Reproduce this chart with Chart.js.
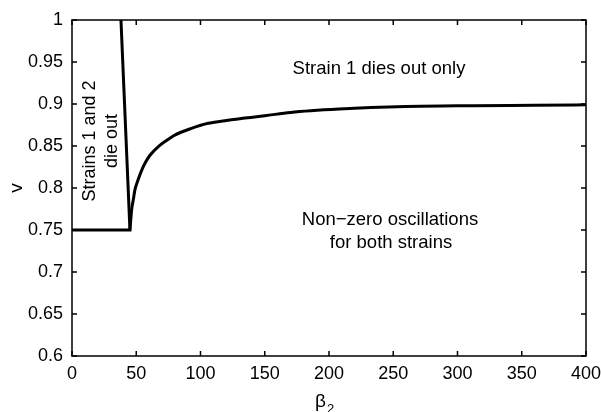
<!DOCTYPE html>
<html>
<head>
<meta charset="utf-8">
<script src="https://cdn.jsdelivr.net/npm/chart.js@4.4.1/dist/chart.umd.min.js"></script>
<style>
  body { margin: 0; background: #fff; }
  #wrap { width: 601px; height: 412px; }
</style>
</head>
<body>
<div id="wrap"><canvas id="myChart"></canvas></div>
<script>
// Boundary between "die out" region and the rest
const boundaryBeta = [0, 45.1, 38.1];
const boundaryV = [0.75, 0.75, 1.0];

// Curve separating strain 1 dying out from oscillations
const curveBeta = [45.1, 46.4, 47.7, 49, 51.5, 54.2, 57, 60.7, 67, 73, 80, 93, 106, 119, 133, 150, 170, 208, 260, 312, 360, 400];
const curveV = [0.75, 0.774, 0.786, 0.798, 0.810, 0.821, 0.830, 0.839, 0.849, 0.856, 0.863, 0.871, 0.877, 0.880, 0.883, 0.886, 0.890, 0.894, 0.897, 0.898, 0.8985, 0.899];

const xTicks = [0, 50, 100, 150, 200, 250, 300, 350, 400];
const yTicks = [0.6, 0.65, 0.7, 0.75, 0.8, 0.85, 0.9, 0.95, 1];

const FONT = '"Liberation Sans", Arial, Helvetica, sans-serif';

const toPoints = (xs, ys) => xs.map((x, i) => ({ x: x, y: ys[i] }));

// Draws the MATLAB-style box, inward ticks and text
const matlabAxes = {
  id: 'matlabAxes',
  afterDraw(chart) {
    const c = chart.ctx;
    const a = chart.chartArea;
    const xs = chart.scales.x, ys = chart.scales.y;
    const len = 5;
    c.save();
    c.strokeStyle = '#000';
    c.lineWidth = 1.5;
    c.strokeRect(a.left, a.top, a.right - a.left, a.bottom - a.top);
    c.beginPath();
    xTicks.forEach(t => {
      const px = xs.getPixelForValue(t);
      c.moveTo(px, a.bottom); c.lineTo(px, a.bottom - len);
      c.moveTo(px, a.top); c.lineTo(px, a.top + len);
    });
    yTicks.forEach(t => {
      const py = ys.getPixelForValue(t);
      c.moveTo(a.left, py); c.lineTo(a.left + len, py);
      c.moveTo(a.right, py); c.lineTo(a.right - len, py);
    });
    c.stroke();

    c.fillStyle = '#000';
    c.textAlign = 'center';
    c.textBaseline = 'middle';
    c.font = '18.5px ' + FONT;
    c.fillText('Strain 1 dies out only', 379, 69);
    c.fillText('Non\u2212zero oscillations', 390, 220);
    c.fillText('for both strains', 391, 243);

    // rotated region label
    c.save();
    c.translate(101, 141);
    c.rotate(-Math.PI / 2);
    c.font = '18px ' + FONT;
    c.fillText('Strains 1 and 2', 0, -11);
    c.fillText('die out', 0, 11);
    c.restore();

    // axis titles
    c.font = '19px ' + FONT;
    c.save();
    c.translate(17, (a.top + a.bottom) / 2);
    c.rotate(-Math.PI / 2);
    c.fillText('v', 0, 0);
    c.restore();

    c.textAlign = 'left';
    c.fillText('\u03b2', 315, 402);
    c.font = '13px ' + FONT;
    c.fillText('2', 327, 409);
    c.restore();
  }
};

const ctx = document.getElementById('myChart').getContext('2d');
new Chart(ctx, {
  type: 'scatter',
  data: {
    datasets: [{
      data: toPoints(boundaryBeta, boundaryV),
      showLine: true,
      borderColor: '#000',
      borderWidth: 3,
      pointRadius: 0,
      tension: 0
    }, {
      data: toPoints(curveBeta, curveV),
      showLine: true,
      borderColor: '#000',
      borderWidth: 3,
      pointRadius: 0,
      cubicInterpolationMode: 'monotone'
    }]
  },
  options: {
    responsive: true,
    maintainAspectRatio: false,
    animation: false,
    layout: { padding: { top: 20, right: 15, left: 0, bottom: 0 } },
    plugins: { legend: { display: false }, tooltip: { enabled: false } },
    scales: {
      x: {
        type: 'linear',
        min: 0,
        max: 400,
        afterBuildTicks: s => { s.ticks = xTicks.map(v => ({ value: v })); },
        afterFit: s => { s.height = 56; s.paddingLeft = 0; s.paddingRight = 0; },
        grid: { display: false, drawTicks: false },
        border: { display: false },
        ticks: { color: '#000', padding: 7, font: { family: FONT, size: 18 } }
      },
      y: {
        type: 'linear',
        min: 0.6,
        max: 1,
        afterBuildTicks: s => { s.ticks = yTicks.map(v => ({ value: v })); },
        afterFit: s => { s.width = 72; s.paddingTop = 0; s.paddingBottom = 0; },
        grid: { display: false, drawTicks: false },
        border: { display: false },
        ticks: {
          color: '#000',
          padding: 9,
          font: { family: FONT, size: 18 },
          callback: v => String(Number(v.toFixed(2)))
        }
      }
    }
  },
  plugins: [matlabAxes]
});
</script>
</body>
</html>
